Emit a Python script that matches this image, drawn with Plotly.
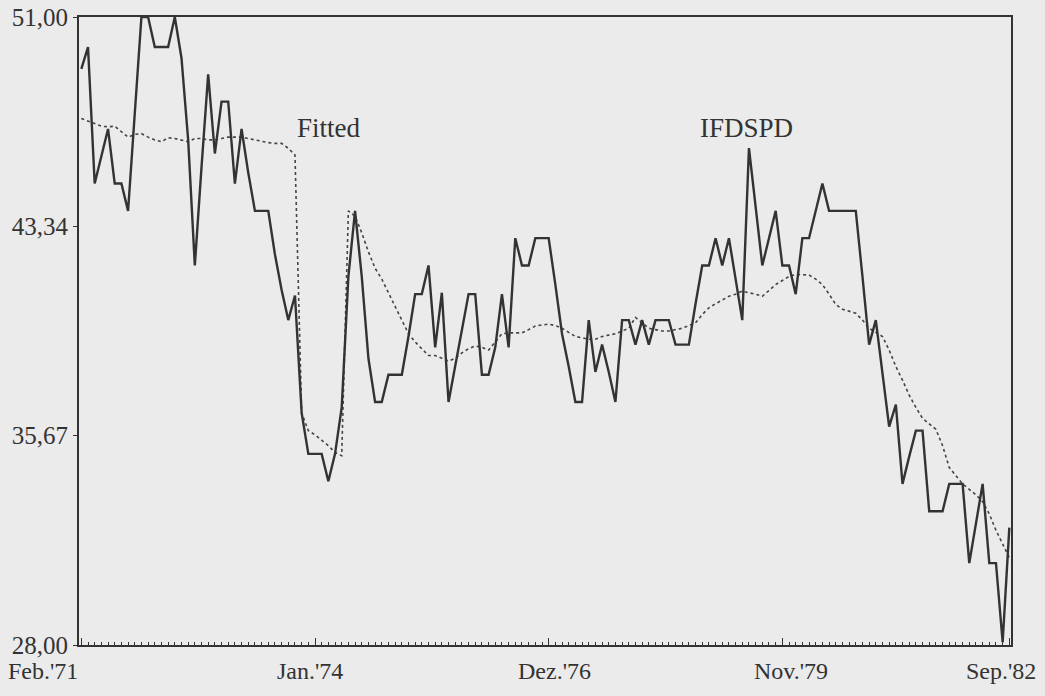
import plotly.graph_objects as go

# ---- data ----
months = list(range(140))  # Feb.'71 ... Sep.'82, monthly index

ifdspd = [49.1, 49.9, 44.9, 45.9, 46.9, 44.9, 44.9, 43.9, 47.5, 51.0,
          51.0, 49.9, 49.9, 49.9, 51.0, 49.5, 46.5, 41.9, 45.5, 48.9,
          46.0, 47.9, 47.9, 44.9, 46.9, 45.3, 43.9, 43.9, 43.9, 42.3,
          41.0, 39.9, 40.8, 36.5, 35.0, 35.0, 35.0, 34.0, 35.0, 36.7,
          41.5, 43.9, 41.5, 38.5, 36.9, 36.9, 37.9, 37.9, 37.9, 39.3,
          40.85, 40.85, 41.9, 38.9, 40.9, 36.9, 38.2, 39.5, 40.85, 40.85,
          37.9, 37.9, 38.9, 40.85, 38.9, 42.9, 41.9, 41.9, 42.9, 42.9,
          42.9, 41.2, 39.4, 38.2, 36.9, 36.9, 39.9, 38.0, 39.0, 38.0,
          36.9, 39.9, 39.9, 39.0, 39.9, 39.0, 39.9, 39.9, 39.9, 39.0,
          39.0, 39.0, 40.5, 41.9, 41.9, 42.9, 41.9, 42.9, 41.4, 39.9,
          46.2, 44.0, 41.9, 42.9, 43.9, 41.9, 41.9, 40.85, 42.9, 42.9,
          43.9, 44.9, 43.9, 43.9, 43.9, 43.9, 43.9, 41.5, 39.0, 39.9,
          38.0, 36.0, 36.8, 33.9, 34.9, 35.85, 35.85, 32.9, 32.9, 32.9,
          33.9, 33.9, 33.9, 31.0, 32.5, 33.9, 31.0, 31.0, 28.1, 32.3]

fitted = [47.28, 47.2, 47.1, 47.0, 46.98, 47.0, 46.8, 46.6, 46.7, 46.73,
          46.6, 46.5, 46.43, 46.58, 46.55, 46.5, 46.43, 46.55, 46.55, 46.5,
          46.5, 46.55, 46.6, 46.6, 46.6, 46.55, 46.5, 46.43, 46.4, 46.37,
          46.37, 46.19, 45.95, 36.5, 35.85, 35.7, 35.5, 35.3, 35.05, 34.93,
          43.9, 43.7, 43.1, 42.4, 41.8, 41.4, 40.9, 40.4, 39.9, 39.4,
          39.1, 38.85, 38.6, 38.6, 38.5, 38.4, 38.5, 38.7, 38.85, 38.95,
          38.9, 38.8, 39.1, 39.4, 39.43, 39.43, 39.43, 39.55, 39.68, 39.72,
          39.75, 39.7, 39.6, 39.45, 39.3, 39.25, 39.2, 39.2, 39.3, 39.35,
          39.4, 39.5, 39.6, 40.0, 39.8, 39.6, 39.55, 39.5, 39.5, 39.55,
          39.6, 39.7, 39.8, 40.1, 40.35, 40.5, 40.65, 40.77, 40.85, 40.96,
          40.9, 40.85, 40.77, 41.0, 41.2, 41.35, 41.5, 41.57, 41.56, 41.55,
          41.4, 41.2, 40.85, 40.47, 40.3, 40.23, 40.15, 39.9, 39.6, 39.45,
          39.3, 38.8, 38.2, 37.7, 37.15, 36.7, 36.3, 36.1, 35.9, 35.3,
          34.5, 34.2, 33.9, 33.7, 33.5, 33.25, 32.8, 32.2, 31.7, 31.2]

x_tick_vals = [0, 35, 70, 105, 139]
x_tick_text = ["Feb.'71", "Jan.'74", "Dez.'76", "Nov.'79", "Sep.'82"]
y_tick_vals = [28.00, 35.67, 43.34, 51.00]
y_tick_text = ["28,00", "35,67", "43,34", "51,00"]

# ---- style ----
BG = "#ebebeb"
INK = "#333333"
FONT = "Liberation Serif, Times New Roman, serif"
label_shift = [-38, -5, 6, 9, -8]   # pixel offsets of the x labels

fig = go.Figure()
fig.add_trace(go.Scatter(x=months, y=fitted, mode="lines", name="Fitted",
                         line=dict(color="#444444", width=1.6, dash="dot"),
                         hoverinfo="skip"))
fig.add_trace(go.Scatter(x=months, y=ifdspd, mode="lines", name="IFDSPD",
                         line=dict(color=INK, width=2.4),
                         hoverinfo="skip"))

annotations = [
    dict(text="Fitted", xref="paper", yref="paper", x=0.2685, y=0.823,
         xanchor="center", yanchor="middle", showarrow=False,
         font=dict(family=FONT, size=27, color=INK)),
    dict(text="IFDSPD", xref="paper", yref="paper", x=0.7164, y=0.823,
         xanchor="center", yanchor="middle", showarrow=False,
         font=dict(family=FONT, size=27, color=INK)),
]
for v, t, s in zip(x_tick_vals, x_tick_text, label_shift):
    annotations.append(dict(text=t, xref="x", yref="paper", x=v, y=0,
                            xanchor="center", yanchor="top", yshift=-11,
                            xshift=s, showarrow=False,
                            font=dict(family=FONT, size=24, color=INK)))

fig.update_layout(
    width=1045, height=696,
    margin=dict(l=79, r=34, t=17, b=51, pad=0),
    paper_bgcolor=BG, plot_bgcolor=BG,
    showlegend=False,
    hovermode=False,
    font=dict(family=FONT, size=25, color=INK),
    xaxis=dict(
        range=[-0.35, 139.25], automargin=False,
        showgrid=False, zeroline=False,
        showline=True, linecolor=INK, linewidth=2, mirror=True,
        tickmode="array", tickvals=x_tick_vals, ticktext=[""] * len(x_tick_vals),
        ticks="inside", ticklen=7, tickwidth=1.2, tickcolor=INK,
        minor=dict(tickmode="linear", tick0=0, dtick=1, ticks="inside",
                   ticklen=3, tickwidth=1, tickcolor=INK, showgrid=False),
    ),
    yaxis=dict(
        range=[28, 51], automargin=False,
        showgrid=False, zeroline=False,
        showline=True, linecolor=INK, linewidth=2, mirror=True,
        tickmode="array", tickvals=y_tick_vals, ticktext=y_tick_text,
        ticks="outside", ticklen=4, tickwidth=1.2, tickcolor=INK,
        ticklabeloverflow="allow",
        tickfont=dict(family=FONT, size=25, color=INK),
    ),
    annotations=annotations,
)

fig.write_html("out.html",
               config={"displayModeBar": False},
               post_script="document.body.style.margin='0';"
                           "document.body.style.overflow='hidden';"
                           f"document.body.style.background='{BG}';")
